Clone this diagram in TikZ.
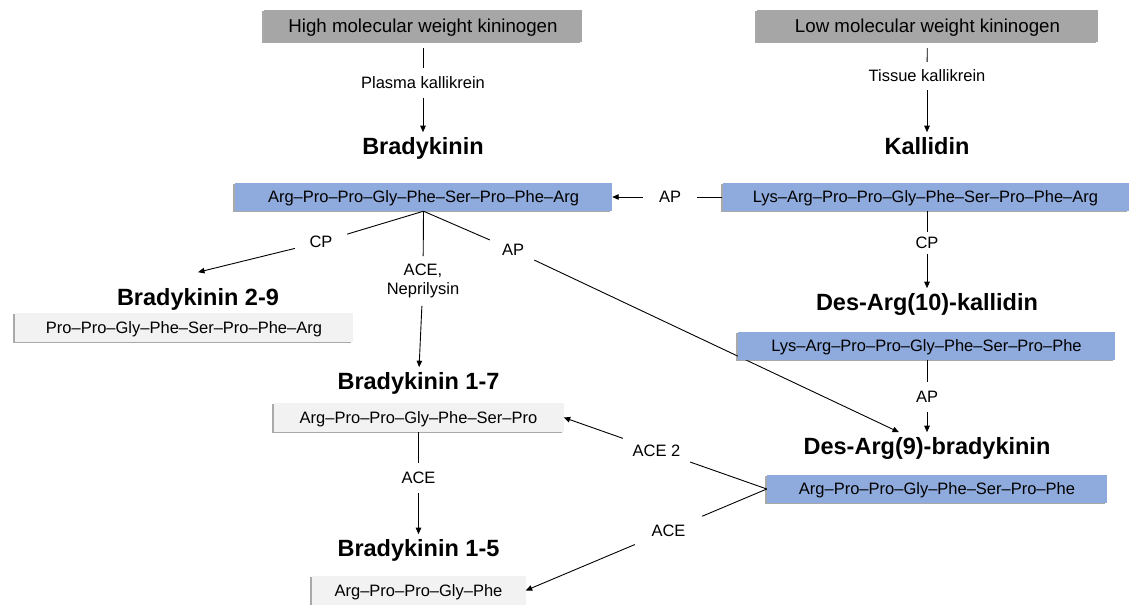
\documentclass[tikz,border=0pt]{standalone}
\usepackage{fontspec}
\setmainfont{Liberation Sans}
\usetikzlibrary{shadows,calc,arrows.meta}
\definecolor{kgray}{HTML}{A6A6A6}
\definecolor{kblue}{HTML}{8FAADC}
\definecolor{klight}{HTML}{F2F2F2}
\tikzset{
  boxbase/.style={rectangle, inner sep=0pt, text height=11.8pt, text depth=0pt,
    font=\fontsize{16.5}{19}\selectfont,
    drop shadow={shadow xshift=-1.6pt, shadow yshift=-1pt, opacity=0.45, fill=black!75}},
  kinbox/.style={boxbase, fill=kgray, minimum height=32pt, outer sep=6pt,
    font=\fontsize{18.7}{22}\selectfont, text height=13.4pt},
  pepblue/.style={boxbase, fill=kblue, minimum height=28pt},
  peplight/.style={boxbase, fill=klight, minimum height=29pt},
  ttl/.style={font=\fontsize{23.5}{28}\selectfont\bfseries, anchor=base, inner sep=0pt,
    text height=16.8pt, text depth=0pt, outer sep=5pt},
  lbl/.style={font=\fontsize{16.5}{19}\selectfont, inner xsep=3pt, inner ysep=9pt,
    text height=11.8pt, text depth=0pt},
  lbltwo/.style={font=\fontsize{16.5}{18.5}\selectfont, align=center, inner xsep=3pt, inner ysep=8pt},
  ln/.style={line width=0.9pt, draw=black},
  arr/.style={ln, -{Triangle[length=6.5pt,width=5.5pt]}}
}
\begin{document}
\begin{tikzpicture}[x=1pt,y=-1pt]
\useasboundingbox (0,0) rectangle (1130,605);

% kininogens
\node[kinbox, minimum width=318pt] (hm) at (423,26) {High molecular weight kininogen};
\node[kinbox, minimum width=341pt] (lm) at (927.5,26) {Low molecular weight kininogen};

% titles
\node[ttl] (bt) at (423,154) {Bradykinin};
\node[ttl] (kt) at (927,154) {Kallidin};
\node[ttl] (b29t) at (198,305) {Bradykinin 2-9};
\node[ttl] (d10t) at (927,310) {Des-Arg(10)-kallidin};
\node[ttl] (b17t) at (418.5,389) {Bradykinin 1-7};
\node[ttl] (d9t) at (927,454) {Des-Arg(9)-bradykinin};
\node[ttl] (b15t) at (418.5,556) {Bradykinin 1-5};

% peptide boxes
\node[pepblue, minimum width=377pt] (bkb) at (423.5,197) {Arg–Pro–Pro–Gly–Phe–Ser–Pro–Phe–Arg};
\node[pepblue, minimum width=406pt] (kbb) at (925.5,197) {Lys–Arg–Pro–Pro–Gly–Phe–Ser–Pro–Phe–Arg};
\node[peplight, minimum width=338pt] (b29b) at (184,327.5) {Pro–Pro–Gly–Phe–Ser–Pro–Phe–Arg};
\node[peplight, minimum width=290pt] (b17b) at (418.5,417.5) {Arg–Pro–Pro–Gly–Phe–Ser–Pro};
\node[pepblue, minimum width=340pt] (d9b) at (937,489) {Arg–Pro–Pro–Gly–Phe–Ser–Pro–Phe};
\node[peplight, minimum width=214pt] (b15b) at (418.5,590.5) {Arg–Pro–Pro–Gly–Phe};

% enzyme labels
\node[lbl, inner ysep=8.5pt] (pk) at (423,83) {Plasma kallikrein};
\node[lbl, inner ysep=8pt] (tk) at (927,76) {Tissue kallikrein};
\node[lbl, inner xsep=16pt, inner ysep=4pt] (aph) at (670,197) {AP};
\node[lbl, inner ysep=5pt] (cpr) at (927,243) {CP};
\node[lbl, inner xsep=14.5pt, inner ysep=4pt] (cpl) at (321,242) {CP};
\node[lbl, inner xsep=12pt, inner ysep=4pt] (apl) at (513,250) {AP};
\node[lbltwo] (acen) at (423,281) {ACE,\\Neprilysin};
\node[lbl, inner ysep=9pt] (apr) at (927,397) {AP};
\node[lbl, inner xsep=9.6pt, inner ysep=7pt] (ace2) at (656.5,450.2) {ACE 2};
\node[lbl, inner xsep=16.5pt, inner ysep=8.5pt] (acel) at (668.5,530.4) {ACE};
\node[lbl, inner ysep=9pt] (acev) at (418.5,478) {ACE};

% connectors
\draw[ln] (hm) -- (pk);
\draw[arr] (pk) -- (bt);
\draw[ln] (lm) -- (tk);
\draw[arr] (tk) -- (kt);
\draw[ln] (kbb) -- (aph);
\draw[arr] (aph) -- (bkb);
\draw[ln] (cpr |- kbb.south) -- (cpr);
\draw[arr] (cpr) -- (d10t);
\draw[ln] (bkb.south) -- (cpl);
\draw[arr] (cpl) -- ($(b29t.north)+(0,-11)$);
\draw[ln] (bkb.south) -- (acen);
\draw[arr] (acen) -- (b17t);
\draw[ln] (bkb.south) -- (apl);
\draw[arr] (apl) -- ($(d9t.north)+(-28,0)$);

% box drawn over the long AP connector
\node[pepblue, minimum width=377pt] (lys) at (926.5,345.5) {Lys–Arg–Pro–Pro–Gly–Phe–Ser–Pro–Phe};

\draw[ln] (apr |- lys.south) -- (apr);
\draw[arr] (apr) -- (d9t);
\draw[ln] (b17b) -- (acev);
\draw[arr] (acev) -- (b15t);
\draw[ln] (d9b.west) -- (ace2);
\draw[arr] (ace2) -- (b17b.east);
\draw[ln] (d9b.west) -- (acel);
\draw[arr] (acel) -- (b15b.east);
\end{tikzpicture}
\end{document}
